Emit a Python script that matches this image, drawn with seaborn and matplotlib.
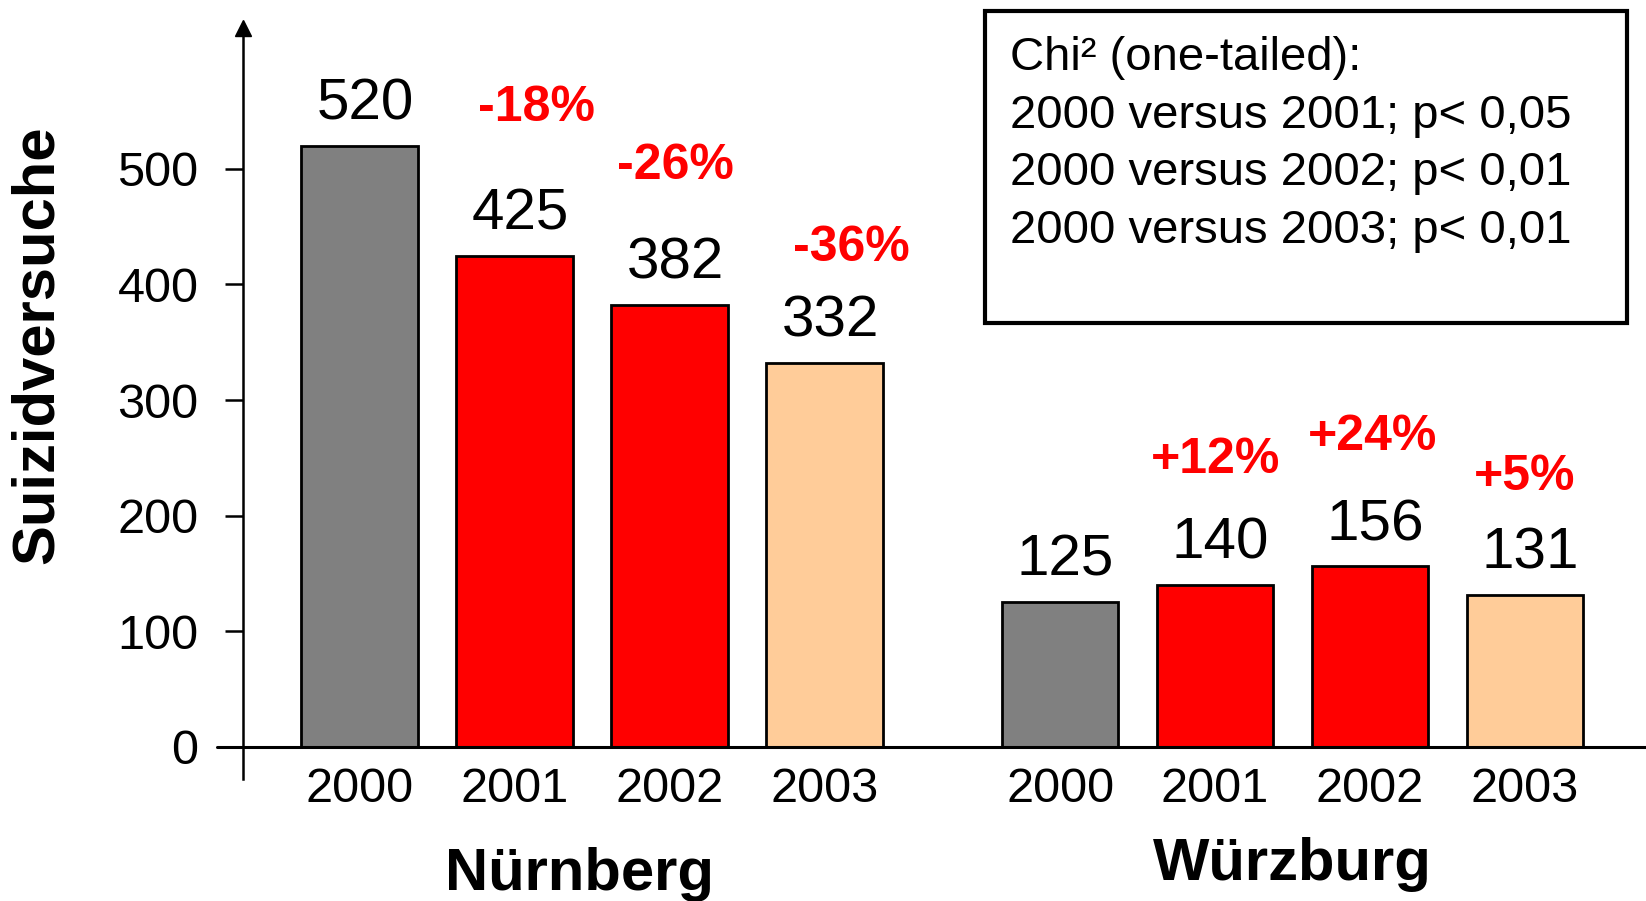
import seaborn as sns
import matplotlib.pyplot as plt
import matplotlib.transforms as mtransforms
from matplotlib.patches import Rectangle
import pandas as pd

cities = ["Nürnberg", "Würzburg"]
years = ["2000", "2001", "2002", "2003"]
nuernberg = [520, 425, 382, 332]
wuerzburg = [125, 140, 156, 131]
nuernberg_change = ["", "-18%", "-26%", "-36%"]
wuerzburg_change = ["", "+12%", "+24%", "+5%"]
stats_lines = ["Chi² (one-tailed):",
               "2000 versus 2001; p< 0,05",
               "2000 versus 2002; p< 0,01",
               "2000 versus 2003; p< 0,01"]

year_colors = {"2000": "#808080", "2001": "#ff0000", "2002": "#ff0000", "2003": "#ffcc99"}

# offsets (points) of the red percentage labels above each bar
pct_offsets = [[(0, 0), (16, 106), (4, 100), (19, 83)],
               [(0, 0), (0, 90), (2, 93), (0, 85)]]

rows = []
for g, (city, vals, chg) in enumerate(zip(cities, [nuernberg, wuerzburg],
                                          [nuernberg_change, wuerzburg_change])):
    for i, (yr, v, c) in enumerate(zip(years, vals, chg)):
        rows.append({"city": city, "year": yr, "value": v, "change": c,
                     "pos": i + g * 4.52, "g": g, "i": i})
df = pd.DataFrame(rows)

sns.set_theme(style="white")
plt.rcParams['font.family'] = ['Liberation Sans', 'DejaVu Sans']
plt.rcParams.update({"text.color": "black", "axes.labelcolor": "black",
                     "xtick.color": "black", "ytick.color": "black"})

fig = plt.figure(figsize=(16.46, 9.01), dpi=100)
ax = fig.add_axes([243 / 1646, 1 - 779 / 901, 1 - 243 / 1646, (779 - 28) / 901])

sns.barplot(data=df, x="pos", y="value", hue="year", palette=year_colors,
            native_scale=True, dodge=False, width=0.75, saturation=1,
            edgecolor="black", linewidth=2, legend=False, ax=ax)

ax.set_xlim(-0.752, 8.3)
ax.set_ylim(-28, 622)

# axes styling
for s in ["top", "right"]:
    ax.spines[s].set_visible(False)
ax.spines["left"].set_linewidth(1.8)
ax.spines["left"].set_color("black")
ax.spines["bottom"].set_position(("data", 0))
ax.spines["bottom"].set_linewidth(0)
ax.axhline(0, xmin=-26 / 1403, xmax=1, color="black", lw=2.2, clip_on=False, zorder=5)
ax.plot(0, 1, marker="^", color="black", markersize=11, transform=ax.transAxes,
        clip_on=False)

ax.set_yticks([0, 100, 200, 300, 400, 500])
ax.tick_params(axis="y", length=13, width=1.8, pad=19, labelsize=35, left=True)
ax.set_xticks(df["pos"])
ax.set_xticklabels(df["year"])
ax.tick_params(axis="x", length=0, pad=15, labelsize=35)
ax.set_xlabel("")
ax.set_ylabel("Suizidversuche", fontsize=43, fontweight="bold")
ax.yaxis.set_label_coords(-0.127, 0.578)

# value labels and percentage changes
for _, r in df.iterrows():
    ax.annotate(str(r["value"]), (r["pos"], r["value"]), xytext=(4, 19),
                textcoords="offset points", ha="center", va="baseline",
                fontsize=42)
    if r["change"]:
        dx, dy = pct_offsets[r["g"]][r["i"]]
        ax.annotate(r["change"], (r["pos"], r["value"]), xytext=(dx, dy),
                    textcoords="offset points", ha="center", va="center",
                    fontsize=36, fontweight="bold", color="#ff0000")

# group labels
trans = mtransforms.blended_transform_factory(ax.transData, fig.transFigure)
group_y = [1 - 875 / 901, 1 - 864 / 901]
group_dx = [-0.08, 0.0]
for g, city in enumerate(cities):
    center = df.loc[df["g"] == g, "pos"].mean() + group_dx[g]
    ax.text(center, group_y[g], city, transform=trans, ha="center", va="center",
            fontsize=43, fontweight="bold")

# statistics box
fig.add_artist(Rectangle((985 / 1646, 1 - 323 / 901), 642 / 1646, 312 / 901,
                         transform=fig.transFigure, fill=False,
                         edgecolor="black", linewidth=3))
for k, line in enumerate(stats_lines):
    fig.text(1010 / 1646, 1 - (58 + k * 57.5) / 901, line, ha="left",
             va="center", fontsize=34)

plt.savefig("out.png", dpi=100)
